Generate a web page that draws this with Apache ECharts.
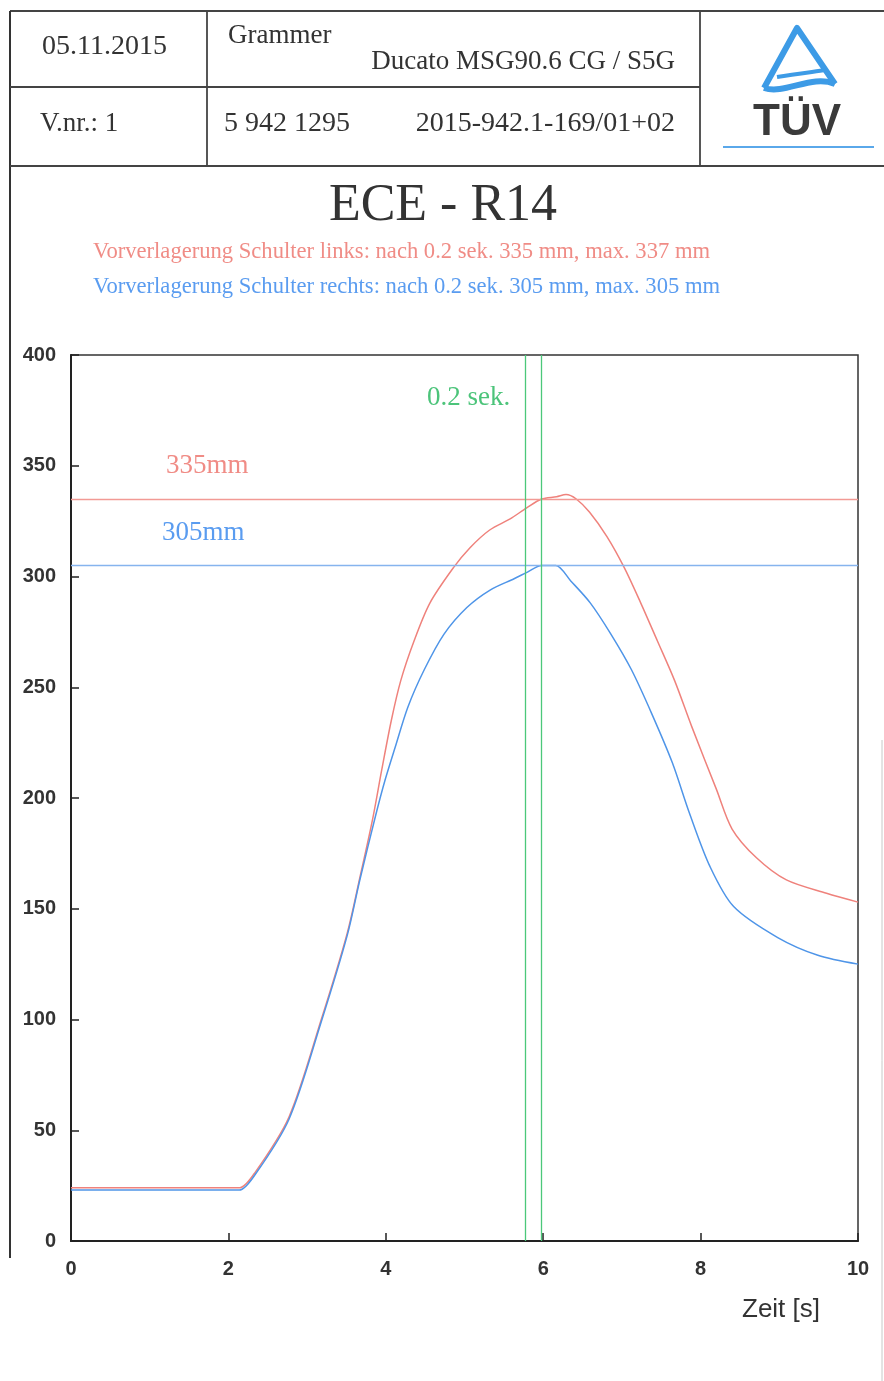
<!DOCTYPE html>
<html><head><meta charset="utf-8">
<script src="https://cdn.jsdelivr.net/npm/echarts@6/dist/echarts.min.js"></script>
<style>html,body{margin:0;padding:0;background:#fff}#c{width:884px;height:1381px}</style>
</head><body><div id="c"></div>
<script>
// ---- data ----
const timeLinks   = [0, 1, 2.0, 2.14, 2.34, 2.77, 3.18, 3.51, 3.67, 3.83, 3.95, 4.07, 4.19, 4.36, 4.56, 4.86, 5.07, 5.32, 5.58, 5.79, 5.98, 6.17, 6.29, 6.42, 6.59, 6.81, 7.03, 7.24, 7.45, 7.67, 7.89, 8.2, 8.4, 8.71, 9.09, 9.6, 10];
const valuesLinks = [24, 24, 24, 24, 31, 56, 100, 139, 164, 190, 213, 235, 253, 271, 288, 304, 313, 321, 326, 331, 335, 336, 337, 335, 329, 318, 304, 288, 271, 253, 232, 204, 186, 173, 163, 157, 153];
const timeRechts   = [0, 1, 2.0, 2.14, 2.34, 2.77, 3.18, 3.51, 3.67, 3.87, 3.99, 4.12, 4.28, 4.49, 4.74, 5.03, 5.33, 5.63, 5.8, 5.98, 6.16, 6.35, 6.6, 6.86, 7.12, 7.38, 7.64, 7.86, 8.12, 8.42, 8.98, 9.49, 10];
const valuesRechts = [23, 23, 23, 23, 30, 55, 99, 138, 163, 192, 208, 223, 241, 258, 274, 286, 294, 299, 302, 305, 305, 298, 288, 274, 258, 238, 216, 193, 169, 151, 137, 129, 125];
const refLevels = [335, 305];          // horizontal reference lines (mm)
const timeMarks = [5.77, 5.98];        // vertical 0.2 sek. lines
const xTickLabels = ['0', '2', '4', '6', '8', '10'];
const yTickLabels = ['0', '50', '100', '150', '200', '250', '300', '350', '400'];

const zip = (a, b) => a.map((v, i) => [v, b[i]]);
const SERIF = '"Liberation Serif", "Times New Roman", serif';
const SANS = '"Liberation Sans", Arial, sans-serif';
const RED = '#ef827c', BLUE = '#4f95e8', GREEN = '#4cc87a';

function txt(text, x, y, size, color, align, opts) {
  opts = opts || {};
  return { type: 'text', silent: true, style: {
    text: text, x: x, y: y, fill: color,
    font: (opts.bold ? 'bold ' : '') + size + 'px ' + (opts.family || SERIF),
    align: align, textAlign: align, verticalAlign: 'middle', textVerticalAlign: 'middle'
  }};
}
function ln(x1, y1, x2, y2, color, w) {
  return { type: 'line', silent: true, shape: { x1: x1, y1: y1, x2: x2, y2: y2 },
    style: { stroke: color, lineWidth: w } };
}
const hLine = (v, c) => ({ yAxis: v, lineStyle: { color: c, width: 1.3, type: 'solid', opacity: 1 } });
const vLine = (t, c) => ({ xAxis: t, lineStyle: { color: c, width: 1.3, type: 'solid', opacity: 1 } });

const chart = echarts.init(document.getElementById('c'), null, { renderer: 'canvas' });
chart.setOption({
  animation: false,
  backgroundColor: '#fff',
  grid: { left: 71, top: 355, width: 787, height: 886, show: true, borderColor: '#333', borderWidth: 1.5, backgroundColor: 'transparent' },
  xAxis: {
    type: 'value', min: 0, max: 10, interval: 2,
    axisLine: { lineStyle: { color: '#222', width: 2 } },
    axisTick: { inside: true, length: 8, lineStyle: { color: '#222', width: 1.5 } },
    splitLine: { show: false },
    axisLabel: { margin: 18, color: '#333', fontSize: 20, fontWeight: 'bold', fontFamily: SANS,
      formatter: (v) => xTickLabels[Math.round(v / 2)] }
  },
  yAxis: {
    type: 'value', min: 0, max: 400, interval: 50,
    axisLine: { show: true, lineStyle: { color: '#222', width: 2 } },
    axisTick: { show: true, inside: true, length: 8, lineStyle: { color: '#222', width: 1.5 } },
    splitLine: { show: false },
    axisLabel: { margin: 15, color: '#333', fontSize: 20, fontWeight: 'bold', fontFamily: SANS,
      formatter: (v) => yTickLabels[Math.round(v / 50)] }
  },
  series: [
    { type: 'line', name: 'links', data: zip(timeLinks, valuesLinks), smooth: 0.3, showSymbol: false,
      color: RED, lineStyle: { color: RED, width: 1.5 }, z: 3,
      markLine: { silent: true, symbol: 'none', label: { show: false }, emphasis: { disabled: true },
        data: [hLine(refLevels[0], '#f29a95')] } },
    { type: 'line', name: 'rechts', data: zip(timeRechts, valuesRechts), smooth: 0.3, showSymbol: false,
      color: BLUE, lineStyle: { color: BLUE, width: 1.5 }, z: 3,
      markLine: { silent: true, symbol: 'none', label: { show: false }, emphasis: { disabled: true },
        data: [hLine(refLevels[1], '#86b4ee')] } },
    { type: 'line', name: 'marks', data: [], color: GREEN,
      markLine: { silent: true, symbol: 'none', label: { show: false }, emphasis: { disabled: true },
        data: timeMarks.map(t => vLine(t, GREEN)) } }
  ],
  graphic: [
    // page / table frame
    ln(10, 11, 884, 11, '#444', 2),
    ln(10, 11, 10, 1258, '#333', 2),
    ln(10, 87, 700, 87, '#444', 1.8),
    ln(10, 166, 884, 166, '#444', 1.8),
    ln(207, 11, 207, 166, '#444', 1.8),
    ln(700, 11, 700, 166, '#444', 1.8),
    ln(882, 740, 882, 1381, '#c8c8c8', 1),
    // header texts
    txt('05.11.2015', 42, 47, 28, '#333', 'left'),
    txt('Grammer', 228, 36, 27, '#333', 'left'),
    txt('Ducato MSG90.6 CG / S5G', 675, 62, 27, '#333', 'right'),
    txt('V.nr.: 1', 40, 124, 27, '#333', 'left'),
    txt('5 942 1295', 224, 124, 28, '#333', 'left'),
    txt('2015-942.1-169/01+02', 675, 124, 28, '#333', 'right'),
    // TÜV logo
    { type: 'polyline', silent: true, shape: { points: [[764, 88], [797, 28], [835, 84]] },
      style: { fill: null, stroke: '#3d9be6', lineWidth: 6, lineJoin: 'round' } },
    { type: 'bezierCurve', silent: true, shape: { x1: 764, y1: 88, cpx1: 785, cpy1: 95, cpx2: 812, cpy2: 74, x2: 835, y2: 84 },
      style: { fill: null, stroke: '#3d9be6', lineWidth: 6 } },
    { type: 'bezierCurve', silent: true, shape: { x1: 777, y1: 77, cpx1: 795, cpy1: 74, cpx2: 812, cpy2: 72, x2: 826, y2: 70 },
      style: { fill: null, stroke: '#3d9be6', lineWidth: 4 } },
    txt('TÜV', 797, 123, 44, '#3a3a3a', 'center', { bold: true, family: SANS }),
    ln(723, 147, 874, 147, '#5aa8ea', 2),
    // title & subtitles
    txt('ECE - R14', 443, 206, 52, '#333', 'center'),
    txt('Vorverlagerung Schulter links: nach 0.2 sek. 335 mm, max. 337 mm', 93, 252, 22.6, '#f08c86', 'left'),
    txt('Vorverlagerung Schulter rechts: nach 0.2 sek. 305 mm, max. 305 mm', 93, 287, 22.6, '#5a9cf0', 'left'),
    // annotations
    txt('335mm', 166, 466, 27, '#f08c86', 'left'),
    txt('305mm', 162, 533, 27, '#5a9cf0', 'left'),
    txt('0.2 sek.', 427, 398, 27, '#4cc47a', 'left'),
    txt('Zeit [s]', 742, 1310, 26, '#333', 'left', { family: SANS })
  ]
});
</script>
</body></html>
